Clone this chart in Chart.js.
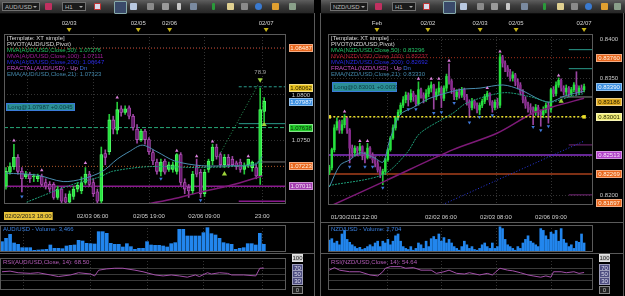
<!DOCTYPE html>
<html><head><meta charset="utf-8">
<script src="https://cdn.jsdelivr.net/npm/chart.js@4"></script>
<style>
html,body{margin:0;padding:0;background:#000;}
body{width:625px;height:296px;position:relative;overflow:hidden;font-family:'Liberation Sans',Arial,sans-serif;}
canvas{position:absolute;}
.tb{position:absolute;top:0;height:13px;background:linear-gradient(#5e5e5e,#3c3c3c 45%,#262626);border-bottom:1px solid #0c0c0c;}
.dd{position:absolute;top:2px;height:9px;background:#1a1a1a;border:1px solid #707070;color:#bbb;font-size:6px;line-height:8px;padding-left:2px;box-sizing:border-box;}
.dd:after{content:'';position:absolute;right:2px;top:3px;border:2px solid transparent;border-top-color:#aaa;}
.ic{position:absolute;top:3px;width:7px;height:7px;border-radius:1px;}
.sep{position:absolute;background:#5a5a5a;}
</style></head><body>

<div class="tb" style="left:0;width:314px">
  <div class="dd" style="left:2px;width:38px">AUD/USD</div>
  <div class="ic" style="left:45px;background:#c03060"></div>
  <div class="dd" style="left:62px;width:24px">H1</div>
  <div class="ic" style="left:94px;background:#d8d8e8;border:1px solid #c03030;width:5px;height:5px"></div>
  <div class="ic" style="left:114px;top:1px;width:11px;height:11px;background:#3a4a6a;border:1px solid #8aa"></div>
  <div class="ic" style="left:130px;background:#b8c8e0"></div>
  <div class="ic" style="left:147px;background:#8a8a8a"></div>
  <div class="ic" style="left:162px;background:#9a9a9a"></div>
  <div class="ic" style="left:177px;background:#c8c8c8;width:4px"></div>
  <div class="ic" style="left:190px;background:#7a8aa0"></div>
  <div class="ic" style="left:212px;background:#2a9a3a;width:3px"></div>
  <div class="ic" style="left:227px;background:#e0d090"></div>
  <div class="ic" style="left:241px;background:#8a8a8a"></div>
  <div class="ic" style="left:255px;background:#3a7ad0;border-radius:4px"></div>
  <div class="ic" style="left:272px;background:#e0a030"></div>
  <div class="ic" style="left:289px;background:#8aa08a"></div>
</div>
<div class="tb" style="left:321px;width:304px">
  <div class="dd" style="left:9px;width:38px">NZD/USD</div>
  <div class="ic" style="left:54px;background:#c03060"></div>
  <div class="dd" style="left:71px;width:24px">H1</div>
  <div class="ic" style="left:102px;background:#d8d8e8;border:1px solid #c03030;width:5px;height:5px"></div>
  <div class="ic" style="left:122px;top:1px;width:11px;height:11px;background:#3a4a6a;border:1px solid #8aa"></div>
  <div class="ic" style="left:139px;background:#b8c8e0"></div>
  <div class="ic" style="left:156px;background:#8a8a8a"></div>
  <div class="ic" style="left:170px;background:#9a9a9a"></div>
  <div class="ic" style="left:185px;background:#c8c8c8;width:4px"></div>
  <div class="ic" style="left:200px;background:#7a8aa0"></div>
  <div class="ic" style="left:222px;background:#2a9a3a;width:3px"></div>
  <div class="ic" style="left:236px;background:#e0d090"></div>
  <div class="ic" style="left:250px;background:#8a8a8a"></div>
  <div class="ic" style="left:264px;background:#3a7ad0;border-radius:4px"></div>
  <div class="ic" style="left:280px;background:#e0a030"></div>
  <div class="ic" style="left:293px;background:#8aa08a"></div>
</div>

<canvas id="audMain" width="316" height="206" style="left:0;top:16px"></canvas>
<canvas id="audVol" width="316" height="32" style="left:0;top:222px"></canvas>
<canvas id="audRsiC" width="316" height="42" style="left:0;top:254px"></canvas>
<canvas id="nzdMain" width="304" height="206" style="left:321px;top:16px"></canvas>
<canvas id="nzdVol" width="304" height="32" style="left:321px;top:222px"></canvas>
<canvas id="nzdRsiC" width="304" height="42" style="left:321px;top:254px"></canvas>

<div class="sep" style="left:0;top:222px;width:314px;height:1px"></div>
<div class="sep" style="left:0;top:253px;width:314px;height:1px"></div>
<div class="sep" style="left:321px;top:222px;width:302px;height:1px"></div>
<div class="sep" style="left:321px;top:253px;width:302px;height:1px"></div>
<div class="sep" style="left:314px;top:13px;width:1px;height:283px"></div>
<div class="sep" style="left:320px;top:13px;width:1px;height:283px"></div>
<div class="sep" style="left:623px;top:13px;width:1px;height:283px"></div>

<script>
// ================= AUD/USD (left) =================
const audOpen=[1.0701,1.0716,1.0722,1.0732,1.0717,1.0711,1.0714,1.0711,1.0709,1.0712,
1.0705,1.0703,1.0703,1.0689,1.0698,1.0689,1.0684,1.0690,1.0698,1.0696,
1.0705,1.0714,1.0705,1.0695,1.0685,1.0736,1.0738,1.0772,1.0761,1.0784,
1.0780,1.0785,1.0776,1.0762,1.0751,1.0760,1.0751,1.0737,1.0727,1.0717,
1.0728,1.0719,1.0719,1.0717,1.0735,1.0705,1.0700,1.0696,1.0722,1.0716,
1.0693,1.0719,1.0728,1.0743,1.0735,1.0724,1.0732,1.0730,1.0726,1.0727,
1.0719,1.0724,1.0721,1.0721,1.0712,1.0781];
const audClose=[1.0717,1.0722,1.0732,1.0717,1.0709,1.0714,1.0709,1.0712,1.0712,1.0703,
1.0701,1.0698,1.0689,1.0698,1.0685,1.0684,1.0693,1.0698,1.0702,1.0705,
1.0714,1.0703,1.0693,1.0685,1.0735,1.0732,1.0772,1.0762,1.0783,1.0780,
1.0784,1.0776,1.0764,1.0751,1.0760,1.0751,1.0738,1.0728,1.0717,1.0727,
1.0716,1.0724,1.0724,1.0735,1.0705,1.0698,1.0696,1.0714,1.0714,1.0693,
1.0716,1.0728,1.0743,1.0733,1.0724,1.0732,1.0724,1.0724,1.0722,1.0719,
1.0723,1.0730,1.0727,1.0712,1.0783,1.0792];
const audHigh=[1.0721,1.0726,1.0746,1.0735,1.0721,1.0717,1.0716,1.0714,1.0714,1.0714,
1.0709,1.0706,1.0705,1.0701,1.0700,1.0693,1.0696,1.0701,1.0705,1.0711,
1.0721,1.0717,1.0709,1.0698,1.0743,1.0740,1.0778,1.0776,1.0791,1.0787,
1.0787,1.0787,1.0778,1.0767,1.0762,1.0762,1.0753,1.0740,1.0730,1.0730,
1.0730,1.0727,1.0727,1.0736,1.0737,1.0709,1.0703,1.0717,1.0730,1.0719,
1.0719,1.0730,1.0746,1.0746,1.0737,1.0735,1.0735,1.0733,1.0728,1.0730,
1.0726,1.0730,1.0728,1.0724,1.0806,1.0796];
const audLow=[1.0698,1.0714,1.0719,1.0714,1.0695,1.0709,1.0705,1.0706,1.0706,1.0701,
1.0698,1.0695,1.0687,1.0687,1.0682,1.0682,1.0682,1.0687,1.0695,1.0693,
1.0703,1.0701,1.0690,1.0682,1.0682,1.0724,1.0735,1.0757,1.0757,1.0776,
1.0778,1.0773,1.0761,1.0747,1.0749,1.0746,1.0735,1.0724,1.0714,1.0712,
1.0714,1.0717,1.0716,1.0714,1.0702,1.0693,1.0689,1.0693,1.0711,1.0689,
1.0690,1.0716,1.0724,1.0730,1.0721,1.0721,1.0721,1.0722,1.0719,1.0716,
1.0714,1.0721,1.0717,1.0709,1.0703,1.0770];
const audVolume=[31,41,53,27,23,13,13,13,5,6,7,8,21,11,11,10,18,20,21,35,33,26,25,24,61,61,56,26,23,23,
15,25,16,8,11,11,31,21,20,20,18,15,25,28,68,68,48,48,48,48,58,73,55,51,41,28,25,23,8,11,13,25,25,21,56,23];
const audRsiIdx=[0,2,4,7,9,12,14,17,19,22,23,24,26,28,30,33,35,38,40,42,44,46,48,49,51,52,54,56,57,60,63,64,65];
const audRsi=[57,59,54,52,54,47,42,47,54,50,44,62,66,68,68,62,57,47,44,47,44,40,47,42,54,50,54,52,47,47,44,68,68.5];
const audEma21Idx=[0,7.7,14.4,19.4,24.3,28,31,34.3,38,42.5,49.2,56.6,62.8,64.5];
const audEma21=[1.0715,1.0713,1.0706,1.0709,1.0717,1.0730,1.0738,1.0745,1.0738,1.0728,1.0723,1.0723,1.0724,1.0733];
const audMva50Idx=[5.2,16.1,23.6,26.8,36,49.2,59.1,64.5];
const audMva50=[1.0684,1.0702,1.0711,1.0717,1.0722,1.0721,1.0723,1.0727];
const audMva100Idx=[33,41.7,49.2,56.6,64.5];
const audMva100=[1.0680,1.0687,1.0695,1.0702,1.0712];
const audTargetIdx=[53.4,63.5];
const audTarget=[1.0732,1.0810];
const audFracUpIdx=[2,9,20,28,43,48,52,61];
const audFracUp=[1.0750,1.0718,1.0726,1.0796,1.0739,1.0733,1.0749,1.0733];
const audFracDnIdx=[4,39,49];
const audFracDn=[1.0690,1.0709,1.0686];
const audSignalIdx=[55,65];
const audSignal=[1.0714,1.0767];
const audLevels=[1.08487,1.07638,1.07223,1.07011];
const audShortLevels=[1.08075,1.0768,1.0727,1.0685];
const audAxisLabels=[1.08487,1.08062,1.07987,1.07638,1.07223,1.07011];
const audTicks=[1.0800,1.0750];
const audTopDates=['02/03','02/05','02/06','02/07'];
const audTopDateIdx=[15.9,33.3,41.2,65.5];
const audTimes=['02/02/2013 18:00','02/03 06:00','02/05 19:00','02/06 09:00','23:00'];
const audTimeIdx=[5.2,21.8,36,49.9,64.5];
const audLegend=['[Template: XT simple]','PIVOT(AUD/USD,Pivot)','MVA(AUD/USD,Close,50): 1.07276','MVA(AUD/USD,Close,100): 1.07111','MVA(AUD/USD,Close,200): 1.06647','FRACTAL(AUD/USD) - ','EMA(AUD/USD,Close,21): 1.07323'];

// ================= NZD/USD (right) =================
const nzdOpen=[0.8229,0.8235,0.8258,0.8286,0.8294,0.8283,0.8290,0.8298,0.8283,0.8260,
0.8254,0.8260,0.8257,0.8262,0.8252,0.8248,0.8260,0.8251,0.8245,0.8240,
0.8232,0.8226,0.8230,0.8245,0.8258,0.8273,0.8286,0.8299,0.8306,0.8315,
0.8322,0.8328,0.8322,0.8330,0.8326,0.8317,0.8335,0.8328,0.8324,0.8330,
0.8337,0.8341,0.8326,0.8332,0.8337,0.8324,0.8337,0.8352,0.8346,0.8335,
0.8326,0.8332,0.8328,0.8335,0.8326,0.8319,0.8312,0.8320,0.8315,0.8309,
0.8315,0.8320,0.8326,0.8330,0.8319,0.8312,0.8319,0.8315,0.8377,0.8369,
0.8363,0.8358,0.8350,0.8354,0.8345,0.8341,0.8332,0.8322,0.8315,0.8312,
0.8309,0.8306,0.8312,0.8306,0.8303,0.8309,0.8315,0.8310,0.8335,0.8330,
0.8341,0.8347,0.8337,0.8332,0.8337,0.8330,0.8335,0.8341,0.8332,0.8337,0.8335];
const nzdClose=[0.8235,0.8258,0.8286,0.8294,0.8283,0.8290,0.8298,0.8283,0.8260,0.8254,
0.8260,0.8257,0.8262,0.8252,0.8248,0.8260,0.8251,0.8245,0.8240,0.8232,
0.8226,0.8230,0.8245,0.8258,0.8273,0.8286,0.8299,0.8306,0.8315,0.8322,
0.8328,0.8322,0.8330,0.8326,0.8317,0.8335,0.8328,0.8324,0.8330,0.8337,
0.8341,0.8326,0.8332,0.8337,0.8324,0.8337,0.8352,0.8346,0.8335,0.8326,
0.8332,0.8328,0.8335,0.8326,0.8319,0.8312,0.8320,0.8315,0.8309,0.8315,
0.8320,0.8326,0.8330,0.8319,0.8312,0.8319,0.8315,0.8377,0.8369,0.8363,
0.8358,0.8350,0.8354,0.8345,0.8341,0.8332,0.8322,0.8315,0.8312,0.8309,
0.8306,0.8312,0.8306,0.8303,0.8309,0.8315,0.8310,0.8335,0.8330,0.8341,
0.8347,0.8337,0.8332,0.8337,0.8330,0.8335,0.8341,0.8332,0.8337,0.8335,0.8339];
const nzdHigh=[0.8238,0.8260,0.8290,0.8299,0.8296,0.8296,0.8303,0.8300,0.8285,0.8264,
0.8263,0.8262,0.8266,0.8263,0.8255,0.8266,0.8262,0.8254,0.8249,0.8244,
0.8236,0.8233,0.8247,0.8260,0.8275,0.8290,0.8301,0.8309,0.8318,0.8326,
0.8332,0.8331,0.8335,0.8333,0.8328,0.8345,0.8337,0.8331,0.8335,0.8340,
0.8345,0.8342,0.8336,0.8345,0.8339,0.8340,0.8355,0.8368,0.8348,0.8337,
0.8335,0.8336,0.8338,0.8337,0.8329,0.8322,0.8324,0.8322,0.8318,0.8318,
0.8323,0.8329,0.8333,0.8331,0.8321,0.8322,0.8324,0.8381,0.8379,0.8372,
0.8366,0.8361,0.8358,0.8356,0.8349,0.8344,0.8335,0.8326,0.8319,0.8317,
0.8313,0.8316,0.8315,0.8309,0.8313,0.8318,0.8319,0.8337,0.8339,0.8345,
0.8350,0.8349,0.8340,0.8341,0.8339,0.8338,0.8344,0.8358,0.8340,0.8341,0.8342];
const nzdLow=[0.8226,0.8232,0.8255,0.8283,0.8279,0.8279,0.8286,0.8279,0.8241,0.8248,
0.8250,0.8250,0.8252,0.8245,0.8241,0.8246,0.8247,0.8241,0.8236,0.8229,
0.8222,0.8213,0.8226,0.8243,0.8256,0.8271,0.8283,0.8296,0.8303,0.8312,
0.8318,0.8314,0.8319,0.8320,0.8314,0.8315,0.8324,0.8318,0.8320,0.8326,
0.8332,0.8310,0.8322,0.8328,0.8312,0.8321,0.8333,0.8342,0.8330,0.8322,
0.8322,0.8324,0.8325,0.8322,0.8315,0.8299,0.8309,0.8311,0.8305,0.8303,
0.8312,0.8317,0.8322,0.8315,0.8306,0.8309,0.8311,0.8312,0.8364,0.8358,
0.8352,0.8346,0.8346,0.8340,0.8336,0.8328,0.8318,0.8311,0.8306,0.8303,
0.8290,0.8302,0.8301,0.8288,0.8299,0.8305,0.8292,0.8306,0.8326,0.8327,
0.8338,0.8333,0.8328,0.8328,0.8326,0.8327,0.8332,0.8328,0.8329,0.8331,0.8332];
const nzdVolume=[33,37,25,30,20,50,60,35,27,20,15,10,13,7,10,15,20,15,25,30,
15,30,25,35,20,30,45,50,30,15,10,7,15,5,10,25,20,10,30,15,
37,43,35,50,30,40,25,35,25,15,10,5,15,30,20,10,15,7,5,10,
20,25,15,10,25,10,15,70,65,35,20,15,10,5,15,10,25,35,45,30,
25,20,15,65,60,45,35,55,50,60,30,65,35,25,15,20,10,30,27,50,25];
const nzdRsiIdx=[0,2,4,8,12,16,19,21,22,24,28,30,33,36,40,42,45,47,50,53,55,59,62,64,67,70,72,75,78,80,83,85,87,88,91,93,96,98,100];
const nzdRsi=[62,70,62,57,57,47,44,57,68,73,73,68,70,62,62,52,57,62,52,50,54,47,52,47,68,62,60,54,47,44,40,44,40,57,57,54,57,52,54.6];
const nzdEma21Idx=[0,4.2,8.1,12.1,18,21.1,23.8,27.8,32.9,39.5,51.3,59.2,68.2,74.9,82.8,86.6,92.5,100];
const nzdEma21=[0.8210,0.8238,0.8245,0.8254,0.8247,0.8242,0.8271,0.8303,0.8312,0.8324,0.8335,0.8337,0.8341,0.8335,0.8322,0.8319,0.8327,0.8333];
const nzdMva50Idx=[0,21.1,30.5,35.6,48.6,54,68.2,78.8,86.6,94.5,100];
const nzdMva50=[0.8212,0.8226,0.8254,0.8279,0.8305,0.8318,0.8331,0.8326,0.8319,0.8326,0.8330];
const nzdMva100Idx=[0,22.7,48.6,65.8,80,87.8,100];
const nzdMva100=[0.8185,0.8219,0.8258,0.8279,0.8305,0.8313,0.8324];
const nzdMva200Idx=[38,100];
const nzdMva200=[0.8178,0.8269];
const nzdFracUpIdx=[6,12,15,35,40,43,47,62,67,90];
const nzdFracUp=[0.8307,0.8269,0.8269,0.8349,0.8349,0.8349,0.8372,0.8337,0.8384,0.8353];
const nzdFracDnIdx=[8,14,17,21,31,34,41,44,49,55,59,64,80,83,86];
const nzdFracDn=[0.8236,0.8236,0.8236,0.8209,0.8310,0.8310,0.8305,0.8306,0.8318,0.8293,0.8300,0.8302,0.8287,0.8283,0.8288];
const nzdSignalIdx=[91];
const nzdSignal=[0.8320];
const nzdLevels=[0.83760,0.83001,0.82513,0.82269];
const nzdShortLevels=[0.83863,0.83619,0.83256,0.82641,0.82000];
const nzdAxisLabels=[0.83760,0.83390,0.83186,0.83001,0.82513,0.82269,0.81897];
const nzdTicks=[0.8400,0.8350,0.8200];
const nzdTopDates=['Feb','02/02','02/03','02/05','02/07'];
const nzdTopDateIdx=[18.7,38.7,59.2,73.3,100];
const nzdTimes=['01/30/2012 22:00','02/02 06:00','02/03 08:00','02/06 09:00'];
const nzdTimeIdx=[9.7,43.8,65.4,87];
const nzdGridIdx=[22.6,43.8,65.4,87];
const nzdLegend=['[Template: XT simple]','PIVOT(NZD/USD,Pivot)','MVA(NZD/USD,Close,50): 0.83296','MVA(NZD/USD,Close,100): 0.83237','MVA(NZD/USD,Close,200): 0.82692','FRACTAL(NZD/USD) - ','EMA(NZD/USD,Close,21): 0.83330'];

// ================= helpers =================
const FONT = "'Liberation Sans', Arial, sans-serif";
function pts(idx, vals){ return idx.map((x,i)=>({x:x, y:vals[i]})); }
function hline(v, x0, x1){ return [{x:x0,y:v},{x:x1,y:v}]; }

const deco = {
  id:'deco',
  beforeDatasetsDraw(chart, args, o){
    const {ctx, chartArea:a} = chart; const x=chart.scales.x, y=chart.scales.y;
    ctx.save();
    ctx.beginPath(); ctx.rect(a.left,a.top,a.right-a.left,a.bottom-a.top); ctx.clip();
    ctx.lineWidth=1;
    ctx.strokeStyle=o.gridColor||'#333'; ctx.setLineDash(o.gridDash||[1,2]);
    (o.hGrid||[]).forEach(v=>{const p=Math.round(y.getPixelForValue(v))+0.5; ctx.beginPath(); ctx.moveTo(a.left,p); ctx.lineTo(a.right,p); ctx.stroke();});
    ctx.setLineDash([1,2]); ctx.strokeStyle='#333';
    (o.vGrid||[]).forEach(v=>{const p=Math.round(x.getPixelForValue(v))+0.5; ctx.beginPath(); ctx.moveTo(p,a.top); ctx.lineTo(p,a.bottom); ctx.stroke();});
    ctx.restore();
  },
  afterDraw(chart, args, o){
    const {ctx, chartArea:a} = chart; const x=chart.scales.x, y=chart.scales.y;
    ctx.save();
    ctx.setLineDash([]); ctx.lineWidth=1; ctx.strokeStyle=o.frame||'#5a5a5a';
    ctx.strokeRect(Math.round(a.left)+0.5, Math.round(a.top)+0.5, Math.round(a.right-a.left)-1, Math.round(a.bottom-a.top)-1);
    ctx.font='6px '+FONT; ctx.textBaseline='middle'; ctx.textAlign='left';
    if(o.legend){
      o.legend.forEach((ln,i)=>{ let xx=a.left+3; const yy=a.top+4.5+i*6;
        ln.forEach(part=>{ ctx.fillStyle=part[1]; ctx.fillText(part[0],xx,yy); xx+=ctx.measureText(part[0]).width; }); });
    }
    if(o.title){ ctx.fillStyle=o.title.color; ctx.fillText(o.title.text, a.left+3, a.top+4); }
    if(o.posBox){ const b=o.posBox; ctx.fillStyle='#2b8f96'; ctx.fillRect(a.left+b.dx,a.top+b.dy,b.w,b.h);
      ctx.strokeStyle='#3a7ad8'; ctx.strokeRect(a.left+b.dx+0.5,a.top+b.dy+0.5,b.w-1,b.h-1);
      ctx.save(); ctx.beginPath(); ctx.rect(a.left+b.dx,a.top+b.dy,b.w,b.h); ctx.clip();
      ctx.fillStyle='#0c3a44'; ctx.fillText(b.text,a.left+b.dx+2,a.top+b.dy+b.h/2+0.5); ctx.restore(); }
    (o.notes||[]).forEach(n=>{ ctx.fillStyle=n.color; ctx.textAlign='center'; ctx.fillText(n.text, x.getPixelForValue(n.x), y.getPixelForValue(n.v)); });
    // right axis labels
    const items=[];
    (o.ticks||[]).forEach(v=>items.push({y:y.getPixelForValue(v), txt:v.toFixed(o.tickDec===undefined?4:o.tickDec)}));
    (o.labels||[]).forEach(l=>items.push({y:y.getPixelForValue(l.v), txt:l.text||l.v.toFixed(5), bg:l.bg, fg:l.fg}));
    items.sort((p,q)=>p.y-q.y);
    const gap=o.labelGap||7;
    for(let i=1;i<items.length;i++){ if(items[i].y<items[i-1].y+gap) items[i].y=items[i-1].y+gap; }
    const lw=o.labelW||24, lx=a.right+(o.labelDx||3);
    items.forEach(it=>{ const by=Math.round(it.y)-4; ctx.textAlign='center';
      if(it.bg){ ctx.fillStyle=it.bg; ctx.fillRect(lx,by,lw,8); ctx.strokeStyle='rgba(255,255,255,0.45)'; ctx.strokeRect(lx+0.5,by+0.5,lw-1,7); ctx.fillStyle=it.fg; }
      else ctx.fillStyle='#c8c8c8';
      ctx.fillText(it.txt, lx+lw/2, by+4.5); });
    // top dates
    if(o.top){ o.top.idx.forEach((v,i)=>{ const px=x.getPixelForValue(v);
      ctx.fillStyle='#d4d4d4'; ctx.textAlign='center'; ctx.fillText(o.top.labels[i], px, a.top-11);
      ctx.fillStyle='#c8b418'; ctx.beginPath(); ctx.moveTo(px-2.5,a.top-6); ctx.lineTo(px+2.5,a.top-6); ctx.lineTo(px,a.top-2); ctx.closePath(); ctx.fill(); }); }
    // bottom times
    if(o.bottom){ o.bottom.idx.forEach((v,i)=>{ let px=x.getPixelForValue(v); const t=o.bottom.labels[i]; const w=ctx.measureText(t).width;
      let left=px-w/2; if(left<a.left+1) left=a.left+1;
      const yy=a.bottom+12;
      if(i===o.bottom.hi){ ctx.fillStyle='#e6c23a'; ctx.fillRect(left-1,yy-4,w+2,8); ctx.fillStyle='#1a1a1a'; }
      else ctx.fillStyle='#d0d0d0';
      ctx.textAlign='left'; ctx.fillText(t,left,yy+0.5); }); }
    ctx.restore();
  }
};

function baseOptions(N, yMin, yMax, padding, decoOpts){
  return {responsive:false, animation:false, devicePixelRatio:1, events:[],
    layout:{padding:padding},
    scales:{x:{type:'linear',min:-0.5,max:N-0.5,display:false,offset:false},
            y:{type:'linear',min:yMin,max:yMax,display:false}},
    plugins:{legend:{display:false},tooltip:{enabled:false},deco:decoOpts}};
}

function priceChart(id, d){
  const up=d.C.map((c,i)=>c>=d.O[i]);
  const ds=[];
  d.lines.forEach(l=>ds.push({type:'line', data:l.data, borderColor:l.color, borderWidth:l.width||1,
    borderDash:l.dash||[], tension:l.tension||0, pointRadius:l.pr||0, pointStyle:l.ps||'circle',
    pointBackgroundColor:l.color, pointBorderWidth:0, order:l.order||3}));
  ds.push({type:'bar', data:d.O.map((o,i)=>({x:i,y:[d.L[i],d.H[i]]})), backgroundColor:up.map(u=>u?d.bullWick:d.bearWick),
    barThickness:1, grouped:false, order:8});
  ds.push({type:'bar', data:d.O.map((o,i)=>({x:i,y:[o,d.C[i]]})), backgroundColor:up.map(u=>u?d.bull:d.bear),
    borderColor:up.map(u=>u?d.bullEdge:d.bearEdge), borderWidth:d.edgeW, borderSkipped:false,
    barThickness:d.bodyW, minBarLength:1, grouped:false, order:7});
  d.markers.forEach(m=>ds.push({type:'line', showLine:false, data:m.data, pointStyle:'triangle', rotation:m.rot||0,
    pointRadius:m.r||2, pointBackgroundColor:m.color, pointBorderColor:m.color, pointBorderWidth:0, order:1}));
  return new Chart(document.getElementById(id), {type:'bar', data:{datasets:ds},
    options:baseOptions(d.N, d.min, d.max, d.padding, d.deco), plugins:[deco]});
}
function volChart(id, vol, N, max, barW, padding, decoOpts){
  return new Chart(document.getElementById(id), {type:'bar',
    data:{datasets:[{data:vol.map((v,i)=>({x:i,y:v})), backgroundColor:'#2286ee', barThickness:barW}]},
    options:baseOptions(N, 0, max, padding, decoOpts), plugins:[deco]});
}
function rsiChart(id, idx, vals, N, padding, decoOpts){
  return new Chart(document.getElementById(id), {type:'line',
    data:{datasets:[{data:pts(idx,vals), borderColor:'#a24fa8', borderWidth:1, pointRadius:0, tension:0}]},
    options:baseOptions(N, 0, 100, padding, decoOpts), plugins:[deco]});
}
function legendParts(txt, c1, c2, c3, c4, ema){
  return [[[txt[0],'#dcdcdc']],[[txt[1],'#dcdcdc']],[[txt[2],c1]],[[txt[3],c2]],[[txt[4],c3]],
    [[txt[5],'#c24fc8'],['Up ','#e07ae0'],['Dn','#3f6fe0']],[[txt[6],ema]]];
}
const rsiLabels=[{v:100,text:'100',bg:'#cfcfcf',fg:'#222'},{v:70,text:'70',bg:'#4d4d80',fg:'#dde'},{v:50,text:'50',bg:'#4d4d80',fg:'#dde'},{v:30,text:'30',bg:'#4d4d80',fg:'#dde'},{v:0,text:'0',bg:'#222',fg:'#bbb'}];

// ================= left =================
const NL=71;
priceChart('audMain', {
  O:audOpen,H:audHigh,L:audLow,C:audClose,N:NL,min:1.0682,max:1.0864,bodyW:3,edgeW:0.8,
  bull:'#26e23e',bullEdge:'#5cff70',bear:'#6a1c70',bearEdge:'#b553ba',bullWick:'#26c83a',bearWick:'#9a45a0',
  padding:{left:0,right:30,top:18,bottom:18},
  lines:[
    {data:hline(audLevels[0],-0.5,NL-0.5),color:'#a8301c',dash:[1,2],order:9},
    {data:hline(audLevels[1],-0.5,NL-0.5),color:'#26a878',dash:[4,2],order:9},
    {data:hline(audLevels[2],-0.5,NL-0.5),color:'#b0582a',dash:[1,2],order:9},
    {data:hline(audLevels[3],-0.5,NL-0.5),color:'#8a1a8e',width:1.5,order:9},
    {data:hline(audShortLevels[0],58.6,NL-0.5),color:'#2a9c8c',dash:[3,2],order:9},
    {data:hline(audShortLevels[1],58.6,NL-0.5),color:'#2a9c8c',order:9},
    {data:hline(audShortLevels[2],63.3,NL-0.5),color:'#777',order:9},
    {data:hline(audShortLevels[3],58.6,NL-0.5),color:'#8a1a8e',width:1.5,order:9},
    {data:pts(audMva100Idx,audMva100),color:'#7e1a78',width:1.5,tension:0.3},
    {data:pts(audMva50Idx,audMva50),color:'#1e9e78',dash:[2,1],tension:0.3},
    {data:pts(audEma21Idx,audEma21),color:'#4a8db0',tension:0.3},
    {data:pts(audTargetIdx,audTarget),color:'#2ea060',dash:[1,2]}
  ],
  markers:[
    {data:pts(audFracUpIdx,audFracUp),color:'#dc82dc',r:2},
    {data:pts(audFracDnIdx,audFracDn),color:'#3f78da',r:2,rot:180},
    {data:pts(audSignalIdx,audSignal),color:'#9ed43a',r:3},
    {data:[{x:64,y:1.0815}],color:'#9ed43a',r:3,rot:180}
  ],
  deco:{hGrid:[1.0850,1.0800,1.0750,1.0700], vGrid:audTimeIdx,
    legend:legendParts(audLegend,'#22c266','#a21e9c','#2a2ae6','#000','#4387aa'),
    posBox:{dx:2,dy:69,w:69,h:8,text:'Long@1.07987 +0.0045'},
    notes:[{x:64,v:1.0823,text:'78.9',color:'#a0a0a0'}],
    ticks:audTicks,
    labels:[{v:audAxisLabels[0],bg:'#e8661c',fg:'#fff2e0'},{v:audAxisLabels[1],bg:'#e8c21e',fg:'#2a2000'},
      {v:audAxisLabels[2],bg:'#3a8ee0',fg:'#f0f6ff'},{v:audAxisLabels[3],bg:'#22cc2a',fg:'#0a2a0a'},
      {v:audAxisLabels[4],bg:'#e8661c',fg:'#fff2e0'},{v:audAxisLabels[5],bg:'#a33cb0',fg:'#f6e6f8'}],
    top:{labels:audTopDates,idx:audTopDateIdx},
    bottom:{labels:audTimes,idx:audTimeIdx,hi:0}}
});
volChart('audVol', audVolume, NL, 81, 3, {left:0,right:30,top:3,bottom:2},
  {vGrid:audTimeIdx, title:{text:'AUD/USD - Volume: 3,466',color:'#3a80e0'}});
rsiChart('audRsiC', audRsiIdx, audRsi, NL, {left:0,right:30,top:4,bottom:6},
  {hGrid:[70,50,30], gridColor:'#3a3a3a', gridDash:[], vGrid:audTimeIdx, title:{text:'RSI(AUD/USD,Close, 14): 68.50',color:'#b45cb8'},
   labels:rsiLabels, labelW:11, labelDx:6, labelGap:6.5});

// ================= right =================
const NR=104;
priceChart('nzdMain', {
  O:nzdOpen,H:nzdHigh,L:nzdLow,C:nzdClose,N:NR,min:0.8187,max:0.84064,bodyW:1.8,edgeW:0,
  bull:'#26e23e',bullEdge:'#26e23e',bear:'#8a2a90',bearEdge:'#8a2a90',bullWick:'#26c83a',bearWick:'#9a45a0',
  padding:{left:7,right:32,top:18,bottom:17},
  lines:[
    {data:hline(nzdLevels[0],-0.5,NR-0.5),color:'#a8301c',dash:[1,2],order:9},
    {data:hline(nzdLevels[1],0,100),color:'#ecdf2a',dash:[2,2],width:1.5,pr:2.5,ps:'rect',order:2},
    {data:hline(nzdLevels[2],-0.5,NR-0.5),color:'#8a34c8',width:1.5,order:9},
    {data:hline(nzdLevels[3],-0.5,NR-0.5),color:'#a8401c',width:1.5,order:9},
    {data:hline(nzdShortLevels[0],94,NR-0.5),color:'#2a9c8c',order:9},
    {data:hline(nzdShortLevels[1],94,NR-0.5),color:'#2a9c8c',order:9},
    {data:hline(nzdShortLevels[2],90.5,NR-0.5),color:'#888',order:9},
    {data:hline(nzdShortLevels[3],94,NR-0.5),color:'#7a2a7e',order:9},
    {data:hline(nzdShortLevels[4],94,NR-0.5),color:'#7a2a7e',order:9},
    {data:pts(nzdMva200Idx,nzdMva200),color:'#2a3ae6',dash:[1,2]},
    {data:pts(nzdMva100Idx,nzdMva100),color:'#7e1a78',width:1.5,tension:0.3},
    {data:pts(nzdMva50Idx,nzdMva50),color:'#1e9e78',dash:[2,1],tension:0.3},
    {data:pts(nzdEma21Idx,nzdEma21),color:'#4a8db0',tension:0.3}
  ],
  markers:[
    {data:pts(nzdFracUpIdx,nzdFracUp),color:'#dc82dc',r:2},
    {data:pts(nzdFracDnIdx,nzdFracDn),color:'#3f78da',r:2,rot:180},
    {data:pts(nzdSignalIdx,nzdSignal),color:'#9ed43a',r:3}
  ],
  deco:{hGrid:[0.8400,0.8350,0.8300,0.8250,0.8200], vGrid:nzdGridIdx,
    legend:legendParts(nzdLegend,'#22c266','#b0203a','#2a2ae6','#000','#4387aa'),
    posBox:{dx:4,dy:48,w:65,h:10,text:'Long@0.83001 +0.0039'},
    ticks:nzdTicks,
    labels:[{v:nzdAxisLabels[0],bg:'#e8661c',fg:'#fff2e0'},{v:nzdAxisLabels[1],bg:'#3a8ee0',fg:'#f0f6ff'},
      {v:nzdAxisLabels[2],bg:'#e0aa1e',fg:'#2a2000'},{v:nzdAxisLabels[3],bg:'#f2ee7a',fg:'#2a2a00'},
      {v:nzdAxisLabels[4],bg:'#b040c8',fg:'#f6e6f8'},{v:nzdAxisLabels[5],bg:'#e8661c',fg:'#fff2e0'},
      {v:nzdAxisLabels[6],bg:'#e8661c',fg:'#fff2e0'}],
    labelW:26,
    top:{labels:nzdTopDates,idx:nzdTopDateIdx},
    bottom:{labels:nzdTimes,idx:nzdTimeIdx,hi:-1}}
});
volChart('nzdVol', nzdVolume, NR, 75, 2, {left:7,right:32,top:3,bottom:2},
  {vGrid:nzdGridIdx, title:{text:'NZD/USD - Volume: 2,704',color:'#3a80e0'}});
rsiChart('nzdRsiC', nzdRsiIdx, nzdRsi, NR, {left:7,right:32,top:4,bottom:6},
  {hGrid:[70,50,30], gridColor:'#3a3a3a', gridDash:[], vGrid:nzdGridIdx, title:{text:'RSI(NZD/USD,Close, 14): 54.64',color:'#b45cb8'},
   labels:rsiLabels, labelW:11, labelDx:6, labelGap:6.5});
</script>
</body></html>
